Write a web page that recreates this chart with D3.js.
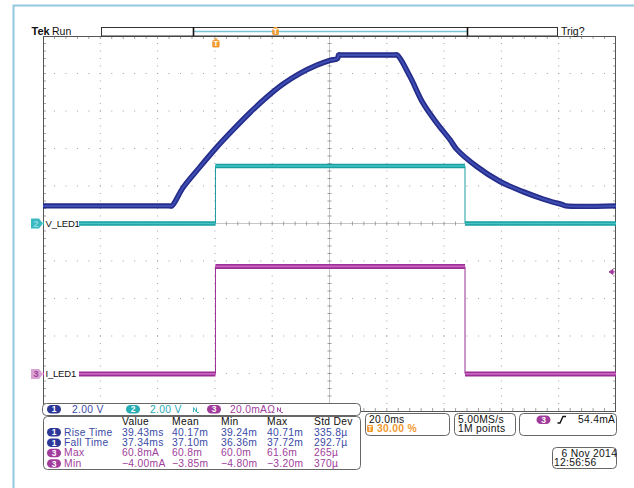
<!DOCTYPE html>
<html>
<head>
<meta charset="utf-8">
<script src="https://cdn.jsdelivr.net/npm/d3@7"></script>
<style>
  html, body { margin: 0; padding: 0; background: #fff; }
  svg { display: block; font-family: "Liberation Sans", Arial, sans-serif; }
</style>
</head>
<body>
<div id="chart-container"></div>
<script>
// scope settings
const timePerDivMs = 20;
const hDivs = 10;
const vDivs = 10;
const triggerPct = 30;

// Ch1 (LED voltage, dark blue): time in ms, volts
const ch1TimeMs = [0, 44.0, 45.0, 48.9, 54.8, 60.6, 66.3, 72.3, 78.1, 83.8, 89.7, 95.5, 100.2, 102.8, 103.2, 104.2,
                   122.6, 123.6, 128.1, 132.6, 137.4, 142.1, 144.4, 151.4, 159.5, 167.5, 174.5, 181.5, 182.5, 200];
const ch1Volts  = [0, 0, 0, 0.98, 2.08, 3.12, 4.05, 4.98, 5.80, 6.50, 7.07, 7.50, 7.76, 7.86, 8.05, 8.05,
                   8.05, 8.05, 6.90, 5.49, 4.43, 3.52, 3.02, 2.10, 1.30, 0.76, 0.37, 0.05, 0, 0];
const ch1Pos = 0.47;   // divisions
const ch1VoltsPerDiv = 2;

// Ch2 (V_LED1, teal): step
const ch2TimeMs = [0, 60.2, 60.2, 147.3, 147.3, 200];
const ch2Volts  = [0, 0, 3.07, 3.07, 0, 0];
const ch2Pos = 0;
const ch2VoltsPerDiv = 2;

// Ch3 (I_LED1, magenta): step
const ch3TimeMs = [0, 60.2, 60.2, 147.3, 147.3, 200];
const ch3mA     = [0, 0, 57.3, 57.3, 0, 0];
const ch3Pos = -4.01;
const ch3mAPerDiv = 20;
const trigLevelmA = 54.4;

// readouts
const measHeaders = ["Value", "Mean", "Min", "Max", "Std Dev"];
const measChannels = [1, 1, 3, 3];
const measNames = ["Rise Time", "Fall Time", "Max", "Min"];
const measValues = [
  ["39.43ms", "40.17m", "39.24m", "40.71m", "335.8\u00b5"],
  ["37.34ms", "37.10m", "36.36m", "37.72m", "292.7\u00b5"],
  ["60.8mA", "60.8m", "60.0m", "61.6m", "265\u00b5"],
  ["\u22124.00mA", "\u22123.85m", "\u22124.80m", "\u22123.20m", "370\u00b5"]
];

const colors = {1: "#2c3897", 2: "#27adb3", 3: "#a23c9c"};
const textColors = {1: "#3a4aa6", 2: "#28a9b3", 3: "#a0409c"};
const orange = "#f09a30";

const width = 634, height = 488;
const gx0 = 43, gx1 = 616, gy0 = 36, gy1 = 411;

const svg = d3.select("#chart-container").append("svg")
    .attr("width", width).attr("height", height);

// outer frame
svg.append("path")
    .attr("d", `M13.5,${height} L13.5,5.5 L${width},5.5`)
    .attr("fill", "none").attr("stroke", "#93c9dd").attr("stroke-width", 2);

const x = d3.scaleLinear().domain([0, timePerDivMs * hDivs]).range([gx0, gx1]);
const y = d3.scaleLinear().domain([-vDivs / 2, vDivs / 2]).range([gy1, gy0]);
const dx = (gx1 - gx0) / hDivs, dy = (gy1 - gy0) / vDivs;

// graticule
const grid = svg.append("g");
for (let i = 1; i < hDivs; i++) {
  const gxp = gx0 + i * dx;
  if (i === hDivs / 2) continue;
  grid.selectAll(null).data(d3.range(1, vDivs * 5)).join("rect")
      .attr("x", gxp - 0.5).attr("y", k => gy0 + k * dy / 5 - 0.5)
      .attr("width", 1).attr("height", 1).attr("fill", "#a0a0a0");
}
for (let j = 1; j < vDivs; j++) {
  const gyp = gy0 + j * dy;
  if (j === vDivs / 2) continue;
  grid.selectAll(null).data(d3.range(1, hDivs * 5)).join("rect")
      .attr("x", k => gx0 + k * dx / 5 - 0.5).attr("y", gyp - 0.5)
      .attr("width", 1).attr("height", 1).attr("fill", "#a0a0a0");
}
const cx = gx0 + dx * hDivs / 2, cy = gy0 + dy * vDivs / 2;
grid.append("line").attr("x1", gx0).attr("x2", gx1).attr("y1", cy).attr("y2", cy)
    .attr("stroke", "#b8b8b8").attr("stroke-width", 0.8);
grid.append("line").attr("x1", cx).attr("x2", cx).attr("y1", gy0).attr("y2", gy1)
    .attr("stroke", "#b8b8b8").attr("stroke-width", 0.8);
// minor ticks on center lines and edges
const hTicks = d3.range(1, hDivs * 5).map(k => gx0 + k * dx / 5);
const vTicks = d3.range(1, vDivs * 5).map(k => gy0 + k * dy / 5);
const tickG = grid.append("g").attr("stroke", "#8a8a8a").attr("stroke-width", 0.8);
hTicks.forEach(t => {
  tickG.append("line").attr("x1", t).attr("x2", t).attr("y1", cy - 2).attr("y2", cy + 2);
  tickG.append("line").attr("x1", t).attr("x2", t).attr("y1", gy0).attr("y2", gy0 + 3);
  tickG.append("line").attr("x1", t).attr("x2", t).attr("y1", gy1 - 3).attr("y2", gy1);
});
vTicks.forEach(t => {
  tickG.append("line").attr("y1", t).attr("y2", t).attr("x1", cx - 2).attr("x2", cx + 2);
  tickG.append("line").attr("y1", t).attr("y2", t).attr("x1", gx0).attr("x2", gx0 + 3);
  tickG.append("line").attr("y1", t).attr("y2", t).attr("x1", gx1 - 3).attr("x2", gx1);
});
grid.append("rect").attr("x", gx0 + 0.5).attr("y", gy0 + 0.5)
    .attr("width", gx1 - gx0 - 1).attr("height", gy1 - gy0)
    .attr("fill", "none").attr("stroke", "#555").attr("stroke-width", 1);

// traces
svg.append("clipPath").attr("id", "clip").append("rect")
    .attr("x", gx0).attr("y", gy0).attr("width", gx1 - gx0).attr("height", gy1 - gy0);
const traces = svg.append("g").attr("clip-path", "url(#clip)");

function stepTrace(times, vals, perDiv, pos, outer, inner, w) {
  const pts = times.map((t, i) => [x(t), y(vals[i] / perDiv + pos)]);
  traces.append("path").attr("d", d3.line()(pts))
      .attr("fill", "none").attr("stroke", outer).attr("stroke-width", 1);
  for (let i = 0; i < pts.length - 1; i++) {
    if (vals[i] !== vals[i + 1]) continue;
    const seg = d3.line()([pts[i], pts[i + 1]]);
    traces.append("path").attr("d", seg).attr("fill", "none")
        .attr("stroke", outer).attr("stroke-width", w);
    traces.append("path").attr("d", seg).attr("fill", "none")
        .attr("stroke", inner).attr("stroke-width", w * 0.35);
  }
}
stepTrace(ch3TimeMs, ch3mA, ch3mAPerDiv, ch3Pos, "#9c2f95", "#c966c2", 5);
stepTrace(ch2TimeMs, ch2Volts, ch2VoltsPerDiv, ch2Pos, "#1a9ea2", "#45c4c2", 4.5);

const ch1Line = d3.line()
    .x((d, i) => x(ch1TimeMs[i]))
    .y(d => y(d / ch1VoltsPerDiv + ch1Pos))
    .curve(d3.curveCatmullRom.alpha(0.5));
traces.append("path").attr("d", ch1Line(ch1Volts)).attr("fill", "none")
    .attr("stroke", "#252c8a").attr("stroke-width", 5.4).attr("stroke-linejoin", "round");
traces.append("path").attr("d", ch1Line(ch1Volts)).attr("fill", "none")
    .attr("stroke", "#3e4eb3").attr("stroke-width", 2);

// trigger level marker (ch3)
const ty = y(trigLevelmA / ch3mAPerDiv + ch3Pos);
svg.append("path").attr("d", `M609,${ty} L613,${ty - 2.5} L613,${ty + 2.5} Z M612,${ty} L615,${ty}`)
    .attr("fill", colors[3]).attr("stroke", colors[3]).attr("stroke-width", 1);

// channel labels on the left
function chanLabel(yy, num, fill, numColor, label) {
  svg.append("rect").attr("x", 44).attr("y", yy - 6.5).attr("width", 35).attr("height", 13).attr("fill", "#fff");
  svg.append("path").attr("d", `M31,${yy - 5} L39,${yy - 5} L43,${yy} L39,${yy + 5} L31,${yy + 5} Z`)
      .attr("fill", fill);
  svg.append("text").attr("x", 36).attr("y", yy + 3.5).attr("text-anchor", "middle")
      .attr("font-size", 9).attr("font-weight", "bold").attr("fill", numColor).text(num);
  svg.append("text").attr("x", 45.5).attr("y", yy + 3.5).attr("font-size", 9.5).attr("fill", "#111")
      .attr("letter-spacing", -0.2).text(label);
}
chanLabel(y(ch2Pos), "2", "#3cb8c2", "#8fdde0", "V_LED1");
chanLabel(y(ch3Pos), "3", "#d9a3d2", "#a0409c", "I_LED1");

// top bar
svg.append("text").attr("x", 31.5).attr("y", 35).attr("font-size", 11).attr("font-weight", "bold")
    .attr("fill", "#111").text("Tek");
svg.append("text").attr("x", 52).attr("y", 35).attr("font-size", 10.5).attr("fill", "#111").text("Run");
svg.append("text").attr("x", 561).attr("y", 35).attr("font-size", 10.5).attr("fill", "#111").text("Trig?");
svg.append("rect").attr("x", 101.5).attr("y", 27.5).attr("width", 456).attr("height", 8.5)
    .attr("fill", "#fff").attr("stroke", "#333").attr("stroke-width", 1);
svg.append("line").attr("x1", 194).attr("x2", 467).attr("y1", 31.5).attr("y2", 31.5)
    .attr("stroke", "#78c3d8").attr("stroke-width", 1.5);
[193.5, 467.5].forEach(bx => svg.append("line").attr("x1", bx).attr("x2", bx).attr("y1", 27).attr("y2", 36)
    .attr("stroke", "#111").attr("stroke-width", 1.6));
// trigger markers
function tMarker(mx, my, s) {
  svg.append("path").attr("d", `M${mx - 2.5 * s},${my} L${mx + 2.5 * s},${my} L${mx},${my + 2 * s} Z`).attr("fill", orange);
  svg.append("rect").attr("x", mx - 3.5 * s).attr("y", my + 1.5 * s).attr("width", 7 * s).attr("height", 7 * s)
      .attr("rx", 1.5).attr("fill", orange);
  svg.append("text").attr("x", mx).attr("y", my + 7.6 * s).attr("text-anchor", "middle")
      .attr("font-size", 7.5 * s).attr("font-weight", "bold").attr("fill", "#fff").text("T");
}
tMarker(x(timePerDivMs * hDivs * triggerPct / 100) + 1, 38.5, 1.05);
tMarker(275.5, 27, 0.95);

// bottom readouts
function box(bx, by, w, h) {
  svg.append("rect").attr("x", bx + 0.5).attr("y", by + 0.5).attr("width", w).attr("height", h)
      .attr("rx", 4).attr("fill", "#fff").attr("stroke", "#666").attr("stroke-width", 1);
}
function badge(bx, by, ch) {
  svg.append("rect").attr("x", bx).attr("y", by).attr("width", 14).attr("height", 8.5).attr("rx", 4.25)
      .attr("fill", colors[ch]);
  svg.append("text").attr("x", bx + 7).attr("y", by + 7.3).attr("text-anchor", "middle")
      .attr("font-size", 8.5).attr("font-weight", "bold").attr("fill", "#fff").text(ch);
}
function txt(tx, ty2, s, color, size) {
  return svg.append("text").attr("x", tx).attr("y", ty2).attr("font-size", size || 10.3)
      .attr("fill", color).attr("letter-spacing", 0.3).text(s);
}

// channel bar
box(42, 403, 318, 12);
badge(47, 405, 1);
txt(72, 413, "2.00 V", textColors[1]);
badge(126, 405, 2);
txt(150, 413, "2.00 V", textColors[2]);
svg.append("path").attr("d", "M193.5,412 L193.5,407.5 L196.5,412 L196.5,407.5 M197,412.5 L199,412.5")
    .attr("fill", "none").attr("stroke", textColors[2]).attr("stroke-width", 0.9);
badge(207, 405, 3);
txt(230, 413, "20.0mA\u03a9", textColors[3]);
svg.append("path").attr("d", "M277.5,412 L277.5,407.5 L280.5,412 L280.5,407.5 M281,412.5 L283,412.5")
    .attr("fill", "none").attr("stroke", textColors[3]).attr("stroke-width", 0.9);

// measurement table
box(43, 416, 317, 53);
const colX = [122, 172, 221, 267, 314];
measHeaders.forEach((h, i) => txt(colX[i], 425, h, "#111"));
measNames.forEach((name, r) => {
  const ry = 435.5 + r * 10.4;
  const c = measChannels[r];
  badge(47, ry - 7.5, c);
  txt(64, ry, name, textColors[c]);
  measValues[r].forEach((v, i) => txt(colX[i], ry, v, textColors[c]));
});

// timebase box
box(365, 413, 84, 22);
txt(369, 422.5, "20.0ms", "#111");
svg.append("rect").attr("x", 367).attr("y", 425).attr("width", 6).attr("height", 7).attr("rx", 1).attr("fill", orange);
svg.append("text").attr("x", 370).attr("y", 431).attr("text-anchor", "middle").attr("font-size", 6.5)
    .attr("font-weight", "bold").attr("fill", "#fff").text("T");
txt(377, 432, "30.00 %", orange).attr("font-weight", "bold");
// acquisition box
box(454, 413, 61, 22);
txt(458, 422.5, "5.00MS/s", "#111");
txt(458, 432, "1M points", "#111");
// trigger box
box(519, 413, 97, 22);
badge(536.5, 415.5, 3);
svg.append("path").attr("d", "M557.5,423 L560,423 L563,416.5 L566,416.5")
    .attr("fill", "none").attr("stroke", "#111").attr("stroke-width", 1.4);
txt(578, 422.5, "54.4mA", "#111");
// date box
box(552, 447, 64, 21);
txt(561.5, 456.5, "6 Nov 2014", "#111");
txt(554, 466, "12:56:56", "#111");
</script>
</body>
</html>
